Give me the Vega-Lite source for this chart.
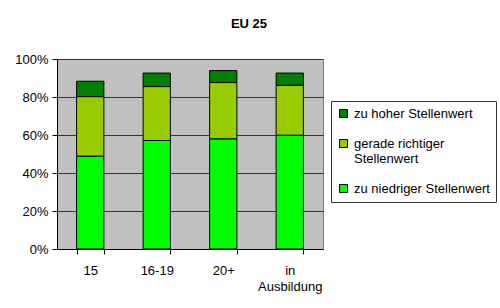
{
  "$schema": "https://vega.github.io/schema/vega-lite/v6.json",
  "width": 266,
  "height": 190,
  "autosize": {"type": "none"},
  "padding": {"left": 57, "top": 59, "right": 177, "bottom": 59},
  "background": "white",
  "title": {"text": "EU 25", "font": "Liberation Sans", "fontSize": 13, "fontWeight": "bold", "color": "black", "anchor": "middle", "dx": 59, "offset": 22},
  "config": {
    "view": {"fill": "#C0C0C0", "stroke": "#808080", "strokeWidth": 1},
    "font": "Liberation Sans"
  },
  "data": {"values": [
    {"Gruppe": "15", "Kategorie": "zu niedriger Stellenwert", "Wert": 48.9, "o": 1},
    {"Gruppe": "15", "Kategorie": "gerade richtiger Stellenwert", "Wert": 31.3, "o": 2},
    {"Gruppe": "15", "Kategorie": "zu hoher Stellenwert", "Wert": 8.1, "o": 3},
    {"Gruppe": "16-19", "Kategorie": "zu niedriger Stellenwert", "Wert": 57.1, "o": 1},
    {"Gruppe": "16-19", "Kategorie": "gerade richtiger Stellenwert", "Wert": 28.4, "o": 2},
    {"Gruppe": "16-19", "Kategorie": "zu hoher Stellenwert", "Wert": 7.1, "o": 3},
    {"Gruppe": "20+", "Kategorie": "zu niedriger Stellenwert", "Wert": 58.0, "o": 1},
    {"Gruppe": "20+", "Kategorie": "gerade richtiger Stellenwert", "Wert": 29.6, "o": 2},
    {"Gruppe": "20+", "Kategorie": "zu hoher Stellenwert", "Wert": 6.3, "o": 3},
    {"Gruppe": "in Ausbildung", "Kategorie": "zu niedriger Stellenwert", "Wert": 59.9, "o": 1},
    {"Gruppe": "in Ausbildung", "Kategorie": "gerade richtiger Stellenwert", "Wert": 26.3, "o": 2},
    {"Gruppe": "in Ausbildung", "Kategorie": "zu hoher Stellenwert", "Wert": 6.4, "o": 3}
  ]},
  "mark": {"type": "bar", "stroke": "black", "strokeWidth": 1},
  "encoding": {
    "x": {
      "field": "Gruppe", "type": "nominal", "sort": null,
      "scale": {"paddingInner": 0.59, "paddingOuter": 0.295},
      "axis": {
        "title": null, "labelAngle": 0, "tickBand": "extent",
        "labelExpr": "datum.label == 'in Ausbildung' ? ['in', 'Ausbildung'] : datum.label",
        "labelFont": "Liberation Sans", "labelFontSize": 13, "labelColor": "black",
        "labelPadding": 10, "labelBaseline": "top", "labelLineHeight": 16,
        "domainColor": "black", "tickColor": "black", "tickSize": 5, "grid": false
      }
    },
    "y": {
      "field": "Wert", "type": "quantitative", "stack": "zero",
      "scale": {"domain": [0, 100], "nice": false},
      "axis": {
        "title": null, "values": [0, 20, 40, 60, 80, 100],
        "labelExpr": "datum.value + '%'",
        "labelFont": "Liberation Sans", "labelFontSize": 13, "labelColor": "black",
        "labelPadding": 4,
        "domainColor": "black", "tickColor": "black", "tickSize": 5,
        "grid": true, "gridColor": "#333333", "gridWidth": 1
      }
    },
    "color": {
      "field": "Kategorie", "type": "nominal",
      "scale": {
        "domain": ["zu hoher Stellenwert", "gerade richtiger Stellenwert", "zu niedriger Stellenwert"],
        "range": ["#008000", "#99CC00", "#00FF00"]
      },
      "legend": {
        "title": null, "orient": "none", "legendX": 274, "legendY": 42,
        "symbolType": "square", "symbolSize": 64, "symbolStrokeColor": "black", "symbolStrokeWidth": 1,
        "labelFont": "Liberation Sans", "labelFontSize": 13, "labelColor": "black",
        "labelExpr": "datum.label == 'gerade richtiger Stellenwert' ? ['gerade richtiger', 'Stellenwert'] : datum.label",
        "labelLineHeight": 14, "labelOffset": 4,
        "rowPadding": 16, "padding": 6,
        "strokeColor": "#333333", "fillColor": "white",
        "labelLimit": 200
      }
    },
    "order": {"field": "o", "type": "quantitative"}
  }
}
